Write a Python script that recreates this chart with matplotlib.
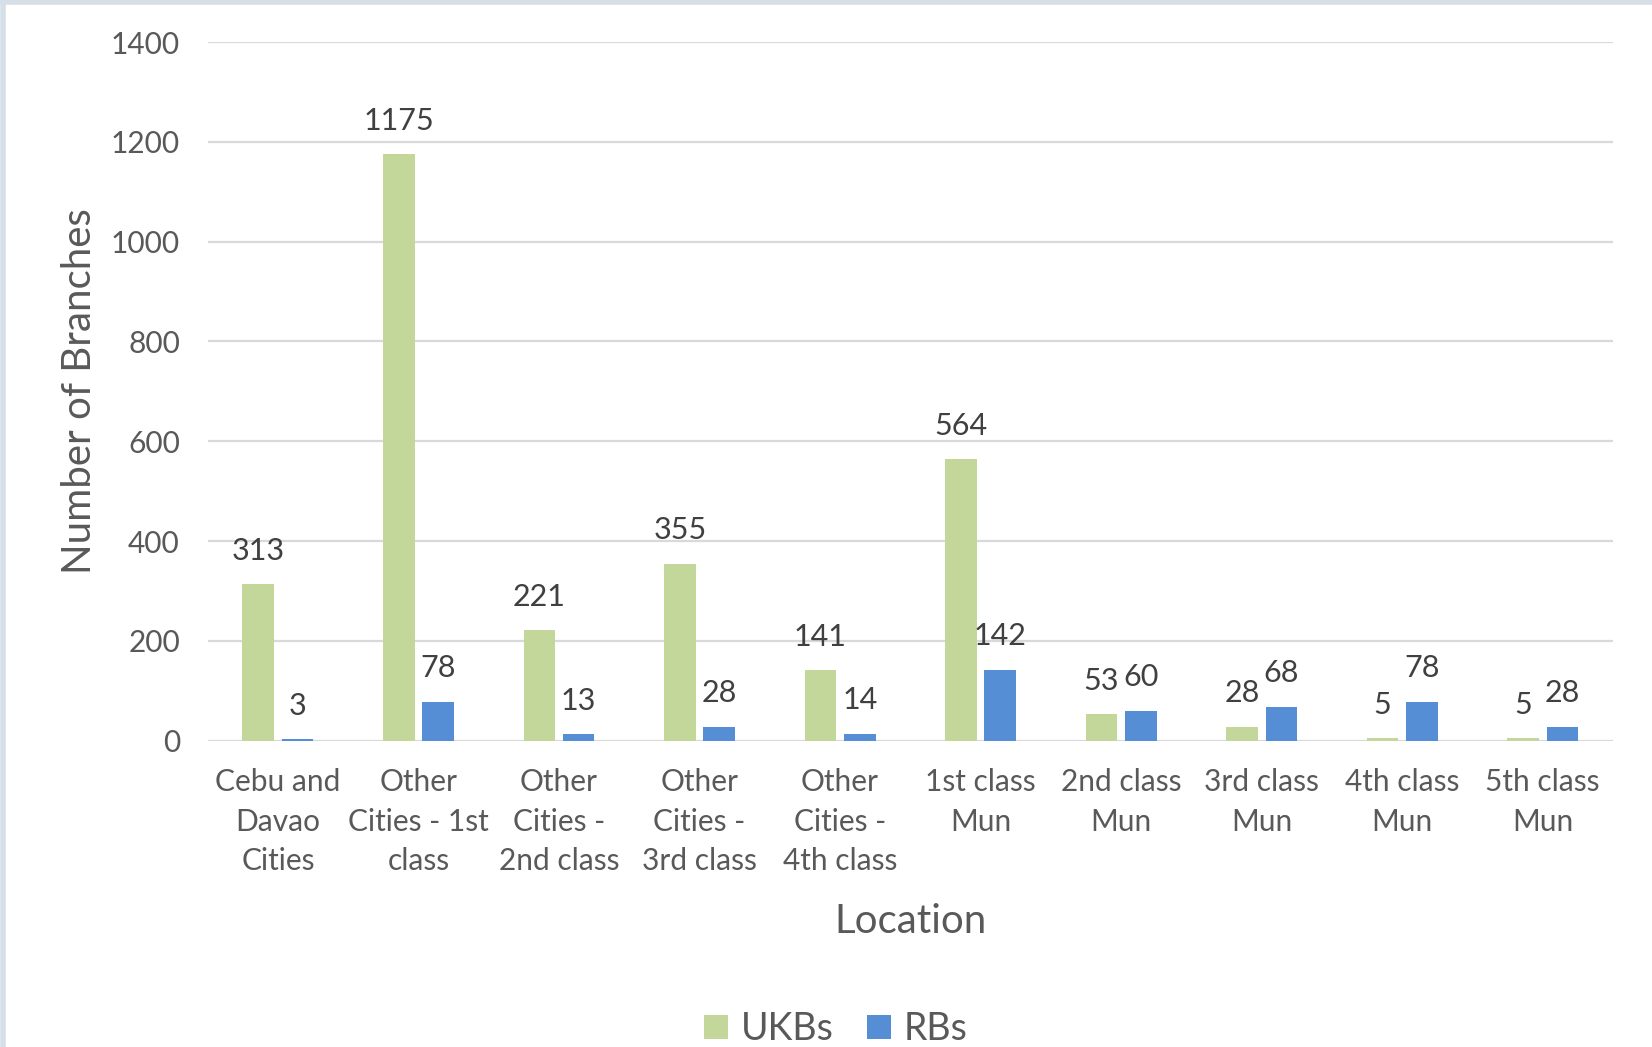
import matplotlib
matplotlib.use("Agg")
import matplotlib.pyplot as plt
from matplotlib.lines import Line2D
import numpy as np

categories = [
    "Cebu and\nDavao\nCities",
    "Other\nCities - 1st\nclass",
    "Other\nCities -\n2nd class",
    "Other\nCities -\n3rd class",
    "Other\nCities -\n4th class",
    "1st class\nMun",
    "2nd class\nMun",
    "3rd class\nMun",
    "4th class\nMun",
    "5th class\nMun",
]
ukbs = [313, 1175, 221, 355, 141, 564, 53, 28, 5, 5]
rbs = [3, 78, 13, 28, 14, 142, 60, 68, 78, 28]
yticks = [0, 200, 400, 600, 800, 1000, 1200, 1400]

GREEN = "#C4D79B"
BLUE = "#558ED5"
TEXT = "#595959"
GRID = "#D9D9D9"

plt.rcParams["font.family"] = ["Lato", "DejaVu Sans"]

fig = plt.figure(figsize=(16.52, 10.47), dpi=100)
ax = fig.add_axes([0.1257, 0.2926, 0.8507, 0.6672])

x = np.arange(len(categories))
w = 0.225
off = 0.14
b1 = ax.bar(x - off, ukbs, width=w, color=GREEN, label="UKBs", zorder=3)
b2 = ax.bar(x + off, rbs, width=w, color=BLUE, label="RBs", zorder=3)

# data labels sit a fixed distance above each bar top
for bars in (b1, b2):
    for rect in bars:
        h = rect.get_height()
        ax.annotate(str(int(h)), (rect.get_x() + rect.get_width() / 2, h),
                    xytext=(0, 24), textcoords="offset points",
                    ha="center", va="center", fontsize=22, color="#404040")

ax.set_xlim(-0.5, len(categories) - 0.5)
ax.set_ylim(0, 1400)
ax.set_yticks(yticks)
ax.set_xticks(x)
ax.set_xticklabels(categories, fontsize=21.5, color=TEXT, linespacing=1.5)
ax.tick_params(axis="y", labelsize=21.5, labelcolor=TEXT, length=0, pad=20)
ax.tick_params(axis="x", length=0, pad=20)
ax.grid(axis="y", color=GRID, linewidth=1.6, zorder=0)
for s in ax.spines.values():
    s.set_visible(False)

ax.set_ylabel("Number of Branches", fontsize=29, color=TEXT, labelpad=9)
ax.set_xlabel("Location", fontsize=29, color=TEXT, labelpad=20)

fig.legend(handles=[b1, b2], labels=["UKBs", "RBs"], loc="center",
           bbox_to_anchor=(0.506, 0.017), ncol=2, frameon=False,
           fontsize=27, handlelength=0.62, handleheight=0.62,
           handletextpad=0.35, columnspacing=0.9, labelcolor=TEXT)

# light frame on the top and left edges
fig.add_artist(Line2D([0, 1], [0.998, 0.998], transform=fig.transFigure,
                      color="#D6DEE8", linewidth=4))
fig.add_artist(Line2D([0.002, 0.002], [0, 1], transform=fig.transFigure,
                      color="#D6DEE8", linewidth=4))

fig.savefig("out.png", dpi=100, facecolor="white")
